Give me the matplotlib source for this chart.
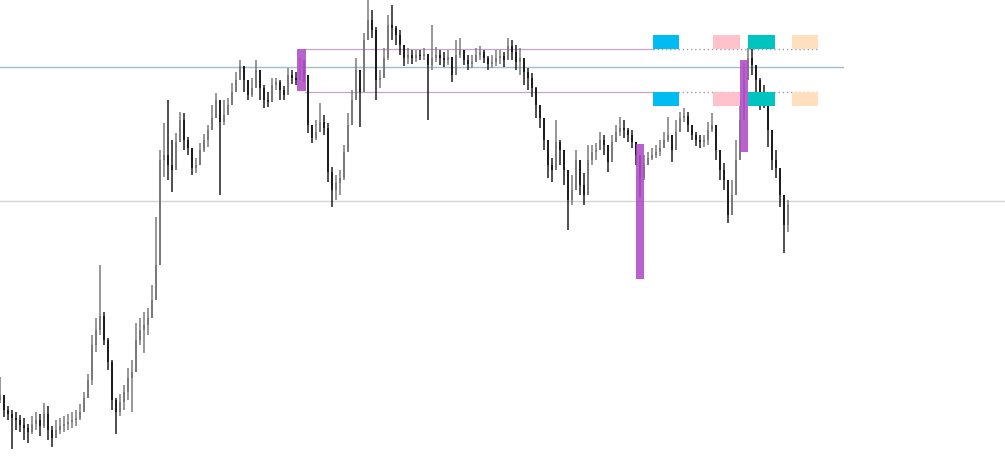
import numpy as np
import matplotlib.pyplot as plt

# bar closes, highs and lows (price units), one bar per slot
close = [1605, 1590, 1586, 1582, 1580, 1575, 1572, 1568, 1576, 1580,
         1574, 1586, 1570, 1562, 1570, 1574, 1576, 1578, 1580, 1582,
         1588, 1602, 1620, 1655, 1670, 1684, 1660, 1638, 1600, 1588,
         1598, 1608, 1622, 1628, 1660, 1670, 1675, 1682, 1700, 1735,
         1840, 1845, 1835, 1830, 1858, 1880, 1860, 1852, 1832, 1835,
         1850, 1860, 1870, 1882, 1900, 1878, 1885, 1895, 1908, 1920,
         1934, 1920, 1905, 1912, 1930, 1912, 1900, 1898, 1915, 1918,
         1910, 1905, 1925, 1922, 1920, 1930, 1925, 1875, 1862, 1868,
         1878, 1872, 1828, 1810, 1817, 1822, 1848, 1875, 1900, 1930,
         1908, 1960, 1980, 1970, 1920, 1922, 1942, 1975, 1972, 1965,
         1955, 1942, 1945, 1942, 1945, 1944, 1946, 1935, 1942, 1945,
         1942, 1940, 1943, 1925, 1945, 1950, 1940, 1936, 1938, 1945,
         1948, 1942, 1936, 1938, 1942, 1944, 1940, 1954, 1948, 1938,
         1942, 1928, 1922, 1912, 1895, 1882, 1860, 1835, 1830, 1858,
         1850, 1830, 1800, 1810, 1840, 1815, 1805, 1840, 1848, 1850,
         1860, 1855, 1838, 1858, 1868, 1872, 1870, 1865, 1858, 1845,
         1822, 1835, 1842, 1845, 1848, 1852, 1860, 1865, 1850, 1868,
         1882, 1884, 1875, 1865, 1860, 1858, 1860, 1870, 1875, 1850,
         1830, 1820, 1785, 1805, 1840, 1880, 1920, 1942, 1935, 1920,
         1905, 1900, 1870, 1840, 1832, 1805, 1775, 1795]
high = [1623, 1600, 1594, 1590, 1588, 1585, 1582, 1576, 1584, 1588,
        1586, 1597, 1594, 1574, 1580, 1582, 1584, 1586, 1588, 1590,
        1596, 1608, 1626, 1665, 1682, 1735, 1688, 1662, 1640, 1602,
        1606, 1615, 1632, 1640, 1677, 1682, 1688, 1692, 1715, 1783,
        1850, 1877, 1900, 1860, 1867, 1888, 1887, 1863, 1842, 1842,
        1857, 1866, 1875, 1895, 1907, 1888, 1900, 1902, 1917, 1928,
        1940, 1930, 1917, 1922, 1940, 1925, 1915, 1908, 1922, 1922,
        1920, 1914, 1932, 1930, 1928, 1942, 1940, 1924, 1875, 1880,
        1897, 1885, 1877, 1833, 1825, 1830, 1855, 1887, 1910, 1942,
        1915, 1967, 2000, 1990, 1973, 1930, 1952, 1985, 1995, 1974,
        1970, 1950, 1952, 1950, 1950, 1950, 1952, 1945, 1975, 1953,
        1950, 1948, 1950, 1940, 1960, 1962, 1950, 1945, 1945, 1952,
        1954, 1950, 1944, 1945, 1950, 1950, 1948, 1962, 1960, 1955,
        1952, 1940, 1932, 1927, 1913, 1892, 1875, 1850, 1842, 1880,
        1860, 1850, 1822, 1825, 1850, 1840, 1827, 1855, 1855, 1857,
        1868, 1865, 1850, 1865, 1875, 1883, 1880, 1872, 1870, 1858,
        1840, 1845, 1848, 1852, 1855, 1860, 1868, 1883, 1862, 1880,
        1888, 1892, 1888, 1875, 1868, 1865, 1865, 1878, 1887, 1875,
        1850, 1837, 1820, 1820, 1860, 1900, 1937, 1952, 1953, 1932,
        1922, 1915, 1905, 1855, 1850, 1832, 1800, 1800]
low = [1597, 1583, 1580, 1551, 1570, 1568, 1560, 1557, 1566, 1570,
       1564, 1572, 1560, 1553, 1562, 1566, 1568, 1570, 1572, 1574,
       1580, 1590, 1605, 1615, 1648, 1665, 1655, 1630, 1590, 1566,
       1584, 1590, 1600, 1588, 1643, 1655, 1647, 1665, 1682, 1715,
       1772, 1823, 1820, 1808, 1838, 1860, 1850, 1845, 1825, 1827,
       1838, 1848, 1853, 1870, 1882, 1805, 1875, 1885, 1900, 1910,
       1923, 1908, 1900, 1903, 1917, 1900, 1892, 1893, 1900, 1910,
       1900, 1900, 1918, 1916, 1915, 1922, 1918, 1867, 1857, 1860,
       1868, 1865, 1818, 1793, 1800, 1805, 1820, 1848, 1885, 1905,
       1873, 1915, 1965, 1962, 1900, 1912, 1925, 1940, 1960, 1955,
       1945, 1934, 1936, 1936, 1938, 1940, 1940, 1880, 1930, 1938,
       1935, 1933, 1935, 1918, 1934, 1942, 1935, 1930, 1932, 1938,
       1940, 1937, 1930, 1932, 1934, 1936, 1933, 1945, 1940, 1930,
       1925, 1915, 1910, 1903, 1882, 1872, 1850, 1822, 1818, 1845,
       1835, 1815, 1770, 1795, 1820, 1805, 1795, 1830, 1835, 1840,
       1850, 1845, 1828, 1850, 1860, 1864, 1862, 1858, 1852, 1835,
       1803, 1820, 1835, 1840, 1842, 1844, 1852, 1858, 1838, 1860,
       1875, 1878, 1868, 1860, 1854, 1852, 1853, 1855, 1868, 1840,
       1820, 1810, 1777, 1790, 1825, 1865, 1905, 1930, 1925, 1903,
       1890, 1892, 1853, 1830, 1822, 1793, 1747, 1768]
first_open = 1600

# horizontal levels
current_level = 1933
ref_level = 1799
zone_top, zone_bottom = 1951, 1908

# purple marker zones: (start bar, end bar, low, high)
purple_zones = [(74.2, 76.5, 1909, 1951), (159.0, 161.0, 1721, 1856), (185.0, 187.0, 1848, 1940)]

# coloured session blocks: (start bar, end bar, colour)
blocks = [(163.2, 169.8, '#00bcf2'), (178.2, 185.0, '#ffc2cc'),
          (187.0, 193.8, '#00c4c0'), (198.0, 204.5, '#ffdfbd')]
block_h = 14

opens = [first_open] + close[:-1]
x = np.arange(len(close))

fig = plt.figure(figsize=(10.05, 4.68), dpi=100)
ax = fig.add_axes([0, 0, 1, 1])
ax.set_xlim(0, 251.25)
ax.set_ylim(2000 - 468, 2000)
ax.axis('off')

ax.axhline(ref_level, color='#d4d4d4', linewidth=1, zorder=1)
ax.plot([0, 210.8], [current_level, current_level], color='#9cc0d2', linewidth=1, zorder=1)
for lvl in (zone_top, zone_bottom):
    ax.plot([76.3, 163.2], [lvl, lvl], color='#c4a2ca', linewidth=0.9, zorder=1)
    ax.plot([163.2, 204.5], [lvl, lvl], color='#a894ad', linewidth=1, linestyle=(0, (1, 2)), zorder=1)

# candles
for xi, o, h, l, c in zip(x, opens, high, low, close):
    col = '#1e1e1e' if c < o else '#7a7a7a'
    ax.vlines(xi, l, h, color=col, linewidth=1.1, zorder=2)
    body = c - o if abs(c - o) >= 1 else 1
    ax.bar(xi, body, bottom=o, width=0.7, color=col, linewidth=0, zorder=3)

for x0, x1, lo, hi in purple_zones:
    ax.add_patch(plt.Rectangle((x0, lo), x1 - x0, hi - lo, color='#b04cc8', alpha=0.88, linewidth=0, zorder=4))

for x0, x1, col in blocks:
    ax.add_patch(plt.Rectangle((x0, zone_top), x1 - x0, block_h, color=col, linewidth=0, zorder=4))
    ax.add_patch(plt.Rectangle((x0, zone_bottom - block_h), x1 - x0, block_h, color=col, linewidth=0, zorder=4))

fig.savefig('out.png', dpi=100)
